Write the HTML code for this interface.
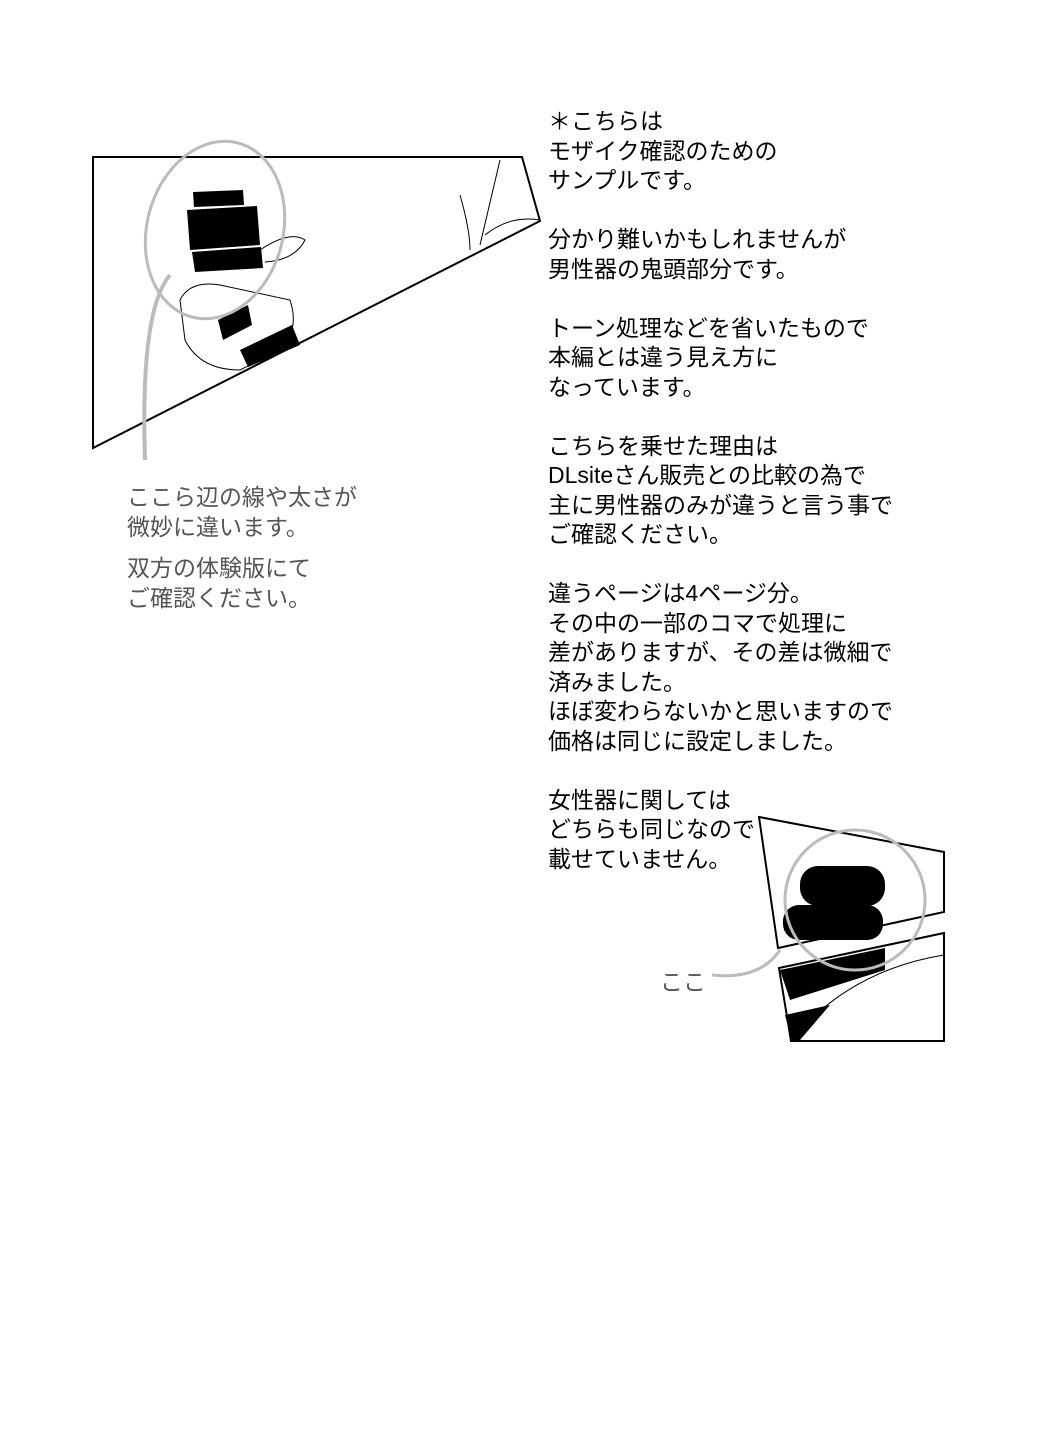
<!DOCTYPE html>
<html><head><meta charset="utf-8"><style>
html,body{margin:0;padding:0;background:#fff;}
body{width:1039px;height:1450px;position:relative;overflow:hidden;font-family:"Liberation Sans","Noto Sans CJK JP",sans-serif;}
.r{position:absolute;left:548px;top:107px;font-size:23px;line-height:29.5px;color:#000;white-space:pre;}
.l{position:absolute;left:127px;font-size:23px;line-height:29.5px;color:#555;white-space:pre;}
svg{position:absolute;left:0;top:0;}
</style></head><body>
<svg width="1039" height="1450">
<polygon points="93,157 522,157 540,221 93,448" fill="#fff" stroke="#000" stroke-width="2"/>
<g fill="#000">
<polygon points="193,192 243,190 244,205 194,207"/>
<polygon points="187,210 257,206 260,245 190,250"/>
<polygon points="192,252 261,247 263,268 195,272"/>
<polygon points="218,320 248,305 252,325 223,340"/>
<polygon points="240,350 292,325 300,345 248,367"/>
</g>
<g fill="none" stroke="#000" stroke-width="1">
<path d="M180,300 Q190,280 220,285 L290,300 Q300,330 280,350 L240,370 Q200,370 185,340Z"/>
<path d="M260,250 Q290,230 305,240 Q295,260 265,262"/>
<path d="M460,195 Q470,230 470,250"/>
<path d="M500,160 L480,245"/>
<path d="M485,235 Q510,215 540,220"/>
</g>
<ellipse cx="215" cy="230" rx="68" ry="90" fill="none" stroke="#bbb" stroke-width="3" transform="rotate(15 215 230)"/>
<path d="M170,275 Q140,310 145,460" fill="none" stroke="#bbb" stroke-width="4"/>
<polygon points="759,817 944,852 944,912 778,948" fill="#fff" stroke="#000" stroke-width="2"/>
<polygon points="779,968 944,933 944,1041 791,1041" fill="#fff" stroke="#000" stroke-width="2"/>
<g fill="#000">
<rect x="800" y="866" width="85" height="40" rx="18"/>
<rect x="783" y="905" width="100" height="35" rx="16"/>
<polygon points="780,970 885,948 885,970 790,1000"/>
<polygon points="785,1015 830,1005 800,1040 792,1040"/>
</g>
<path d="M790,1041 Q850,970 944,955" fill="none" stroke="#000" stroke-width="1"/>
<circle cx="855" cy="900" rx="0" r="70" fill="none" stroke="#bbb" stroke-width="3"/>
<path d="M712,975 Q760,980 780,950" fill="none" stroke="#bbb" stroke-width="3"/>
</svg>
<div class="r">＊こちらは
モザイク確認のための
サンプルです。

分かり難いかもしれませんが
男性器の鬼頭部分です。

トーン処理などを省いたもので
本編とは違う見え方に
なっています。

こちらを乗せた理由は
DLsiteさん販売との比較の為で
主に男性器のみが違うと言う事で
ご確認ください。

違うページは4ページ分。
その中の一部のコマで処理に
差がありますが、その差は微細で
済みました。
ほぼ変わらないかと思いますので
価格は同じに設定しました。

女性器に関しては
どちらも同じなので
載せていません。</div>
<div class="l" style="top:483px">ここら辺の線や太さが
微妙に違います。</div>
<div class="l" style="top:554px">双方の体験版にて
ご確認ください。</div>
<div class="l" style="top:968px;left:660px">ここ</div>
</body></html>
